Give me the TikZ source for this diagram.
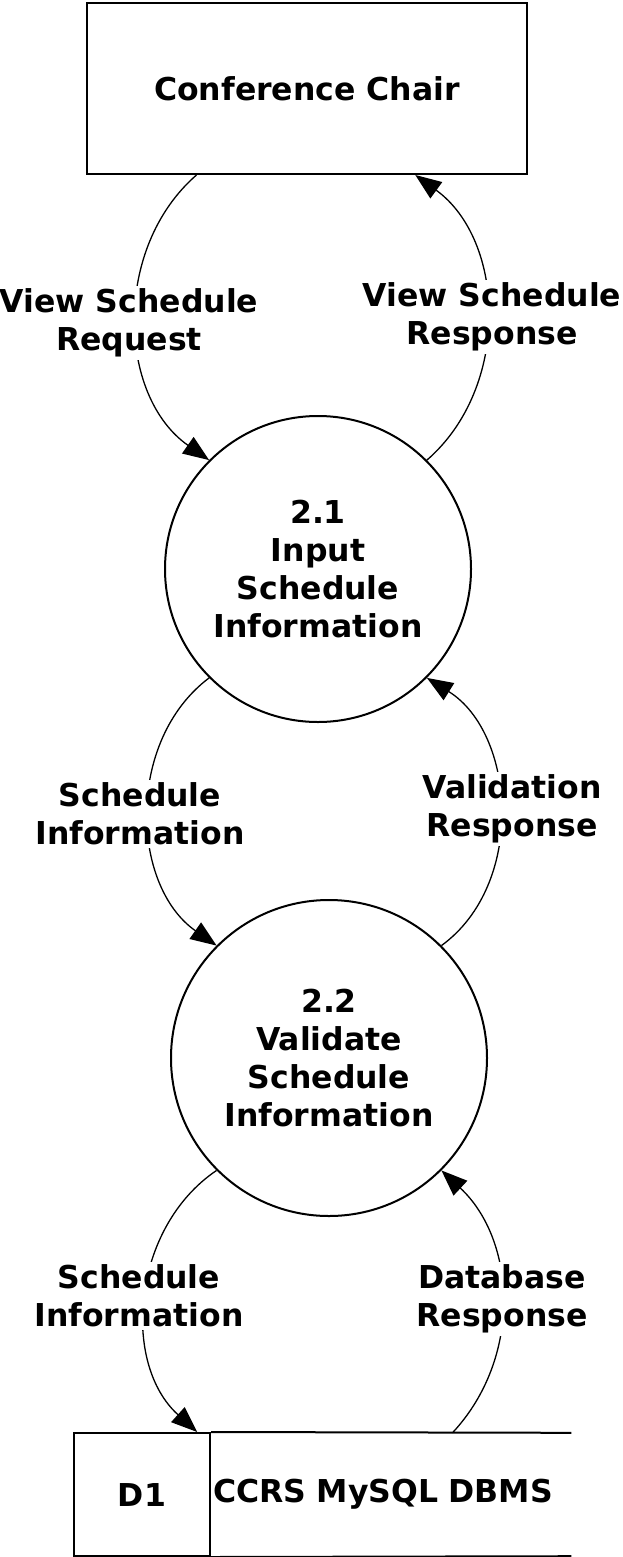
\documentclass[tikz,border=0pt]{standalone}
\usepackage{fontspec}
\setmainfont{DejaVu Sans}
\usetikzlibrary{arrows.meta,calc}

\begin{document}
\begin{tikzpicture}[x=1pt,y=1pt,font=\fontsize{31.5}{38}\selectfont\bfseries,
    entity/.style={draw,line width=2pt,minimum width=440pt,minimum height=171pt},
    process/.style={draw,circle,line width=2pt,align=center,inner sep=0pt},
    store/.style={draw,line width=2pt,minimum width=136pt,minimum height=123pt},
    flow/.style={line width=1.3pt,-{Triangle[length=26pt,width=20pt]}},
    flowlabel/.style={fill=white,align=center,inner sep=3pt}]
      \useasboundingbox (0,0) rectangle (622,-1557);
      \node[entity] (chair) at (307,-88.5) {Conference Chair};
      \node[process,minimum size=306pt] (p1) at (318,-569) {2.1\\Input\\Schedule\\Information};
      \node[process,minimum size=316pt] (p2) at (329,-1058) {2.2\\Validate\\Schedule\\Information};
      \node[store] (d1) at (142,-1494.5) {D1};
      \node[anchor=west,text width=356pt,align=left,inner sep=2pt,minimum height=123pt] (dbms) at (d1.east) {CCRS MySQL DBMS};
      \draw[line width=2pt] (d1.north east) -- (dbms.north east);
      \draw[line width=2pt] (d1.south east) -- (dbms.south east);
      \draw[flow] ($(chair.south west)!0.25!(chair.south east)$) to[out=221,in=145] (p1.135);
      \draw[flow] (p1.45) to[out=41,in=-36] ($(chair.south west)!0.745!(chair.south east)$);
      \draw[flow] (p1.-135) to[out=217,in=145] (p2.135);
      \draw[flow] (p2.45) to[out=36,in=-32] (p1.-45);
      \draw[flow] (p2.-135) to[out=214,in=138] ($(d1.north west)!0.9!(d1.north east)$);
      \draw[flow] ($(dbms.north west)!0.67!(dbms.north east)$) to[out=47,in=-43] (p2.-45);
      \node[flowlabel] (req) at (129,-323) {View Schedule\\Request};
      \node[flowlabel] (resp) at (492,-317) {View Schedule\\Response};
      \node[flowlabel] (info1) at (140,-814) {Schedule\\Information};
      \node[flowlabel] (valid) at (512,-809) {Validation\\Response};
      \node[flowlabel] (info2) at (139,-1296) {Schedule\\Information};
      \node[flowlabel] (dbresp) at (502,-1299) {Database\\Response};
    \end{tikzpicture}
\end{document}
